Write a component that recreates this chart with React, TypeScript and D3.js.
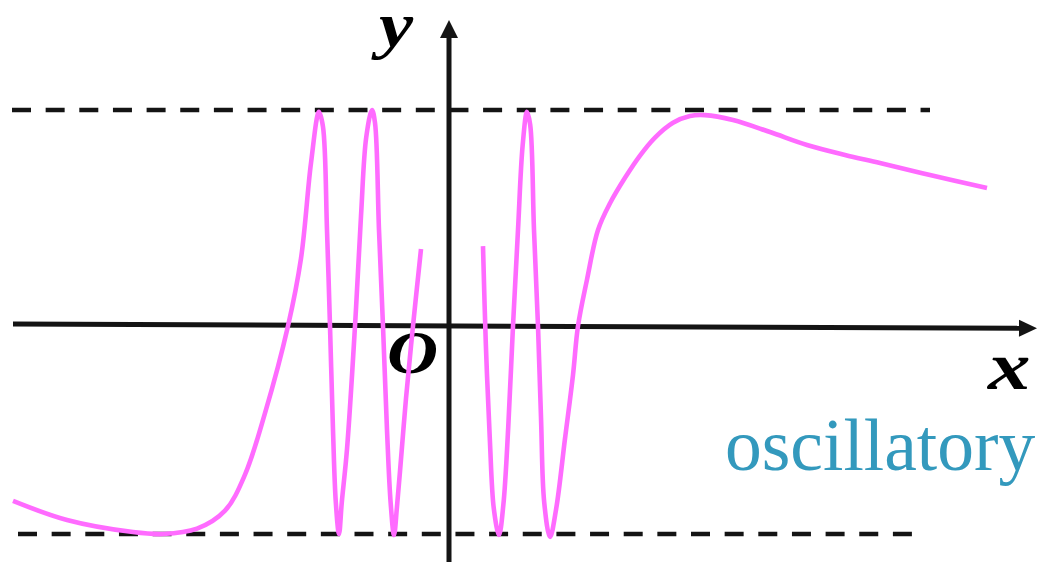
import React from "react";
import * as d3 from "d3";

type Pt = [number, number];

// Oscillatory function samples (x, y) in chart units; y = ±1 are the dashed bounds
const leftBranch: Pt[] = [
  [-10.9, -0.844], [-9.55, -0.934], [-7.9, -0.991], [-7.15, -1.0], [-6.3, -0.975],
  [-5.6, -0.89], [-5.1, -0.72], [-4.6, -0.43], [-4.025, -0.019], [-3.7, 0.3],
  [-3.45, 0.75], [-3.25, 0.991],
  [-3.15, 0.92], [-3.05, 0.434], [-2.975, -0.019], [-2.9, -0.509], [-2.83, -0.85], [-2.75, -1.0],
  [-2.68, -0.85], [-2.55, -0.6], [-2.35, -0.019], [-2.2, 0.5], [-2.07, 0.87], [-1.925, 1.0],
  [-1.85, 0.94], [-1.75, 0.434], [-1.65, -0.019], [-1.55, -0.509], [-1.46, -0.85], [-1.375, -1.005],
  [-1.3, -0.87], [-1.18, -0.6], [-1.075, -0.36], [-0.9, -0.019], [-0.7, 0.344],
];

const rightBranch: Pt[] = [
  [0.85, 0.358], [0.92, -0.1], [1.02, -0.55], [1.12, -0.88], [1.25, -1.005],
  [1.36, -0.86], [1.48, -0.5], [1.6, -0.019], [1.725, 0.434], [1.84, 0.83], [1.95, 0.991],
  [2.03, 0.93], [2.125, 0.434], [2.225, -0.019], [2.3, -0.45], [2.38, -0.85], [2.525, -1.014],
  [2.68, -0.88], [2.9, -0.55], [3.1, -0.25], [3.225, -0.019], [3.45, 0.2], [3.725, 0.434],
  [4.025, 0.56], [4.4, 0.68], [4.775, 0.785], [5.15, 0.87], [5.6, 0.94], [6.025, 0.972],
  [6.4, 0.976], [7.1, 0.953], [8.025, 0.896], [8.95, 0.835], [9.9, 0.788],
  [10.775, 0.75], [12.025, 0.693], [13.45, 0.632],
];

const boundValues = [1, -1];
const boundExtents: Pt[] = [[-10.925, 12.025], [-10.775, 11.6]];
const xAxisEnds: Pt[] = [[-10.9, -0.0094], [14.7, -0.03]];
const yAxisEnds: Pt[] = [[0, -1.2], [0, 1.425]];

const W = 1045;
const H = 562;

const x = d3.scaleLinear().domain([-11, 15]).range([9, 1049]);
const y = d3.scaleLinear().domain([-1, 1]).range([534, 110]);

const line = d3
  .line<Pt>()
  .x((d) => x(d[0]))
  .y((d) => y(d[1]))
  .curve(d3.curveCatmullRom.alpha(0.5));

const straight = d3
  .line<Pt>()
  .x((d) => x(d[0]))
  .y((d) => y(d[1]));

function arrowHead(from: Pt, to: Pt, len: number, half: number) {
  const x0 = x(from[0]), y0 = y(from[1]);
  const x1 = x(to[0]), y1 = y(to[1]);
  const a = Math.atan2(y1 - y0, x1 - x0);
  const bx = x1 - len * Math.cos(a), by = y1 - len * Math.sin(a);
  const px = -Math.sin(a) * half, py = Math.cos(a) * half;
  return `M${x1},${y1}L${bx + px},${by + py}L${bx - px},${by - py}Z`;
}

export default function App() {
  const axisColor = "#141414";
  const curveColor = "#ff6bff";
  const mathFont = "'Liberation Serif', 'Times New Roman', serif";
  const xBase: Pt = [xAxisEnds[1][0] - 18 / 40, xAxisEnds[1][1]];
  const yBase: Pt = [0, yAxisEnds[1][1] - 0.085];
  return (
    <svg
      width={W}
      height={H}
      viewBox={`0 0 ${W} ${H}`}
      style={{ position: "absolute", left: 0, top: 0, background: "#fff" }}
    >
      {boundValues.map((v, i) => (
        <line
          key={i}
          x1={x(boundExtents[i][0])}
          x2={x(boundExtents[i][1])}
          y1={y(v)}
          y2={y(v)}
          stroke={axisColor}
          strokeWidth={4.5}
          strokeDasharray="19 14.65"
        />
      ))}
      <path d={straight([xAxisEnds[0], xBase]) || ""} stroke={axisColor} strokeWidth={5} fill="none" />
      <path d={arrowHead(xAxisEnds[0], xAxisEnds[1], 18, 8.5)} fill={axisColor} />
      <path d={straight([yAxisEnds[0], yBase]) || ""} stroke={axisColor} strokeWidth={5} fill="none" />
      <path d={arrowHead(yAxisEnds[0], yAxisEnds[1], 18, 9)} fill={axisColor} />

      <text
        transform="translate(379,46) scale(1.2,1)"
        fontFamily={mathFont}
        fontStyle="italic"
        fontWeight="bold"
        fontSize={64}
        fill="#000"
      >
        y
      </text>
      <text
        transform="translate(387,373) scale(1.14,1)"
        fontFamily={mathFont}
        fontStyle="italic"
        fontWeight="bold"
        fontSize={62}
        fill="#000"
      >
        O
      </text>
      <text
        transform="translate(988,389) scale(1.25,1)"
        fontFamily={mathFont}
        fontStyle="italic"
        fontWeight="bold"
        fontSize={68}
        fill="#000"
      >
        x
      </text>
      <text x={725} y={470} fontFamily={mathFont} fontSize={73.5} fill="#3399bd">
        oscillatory
      </text>

      <path d={line(leftBranch) || ""} stroke={curveColor} strokeWidth={4.6} fill="none" strokeLinejoin="round" />
      <path d={line(rightBranch) || ""} stroke={curveColor} strokeWidth={4.6} fill="none" strokeLinejoin="round" />
    </svg>
  );
}
